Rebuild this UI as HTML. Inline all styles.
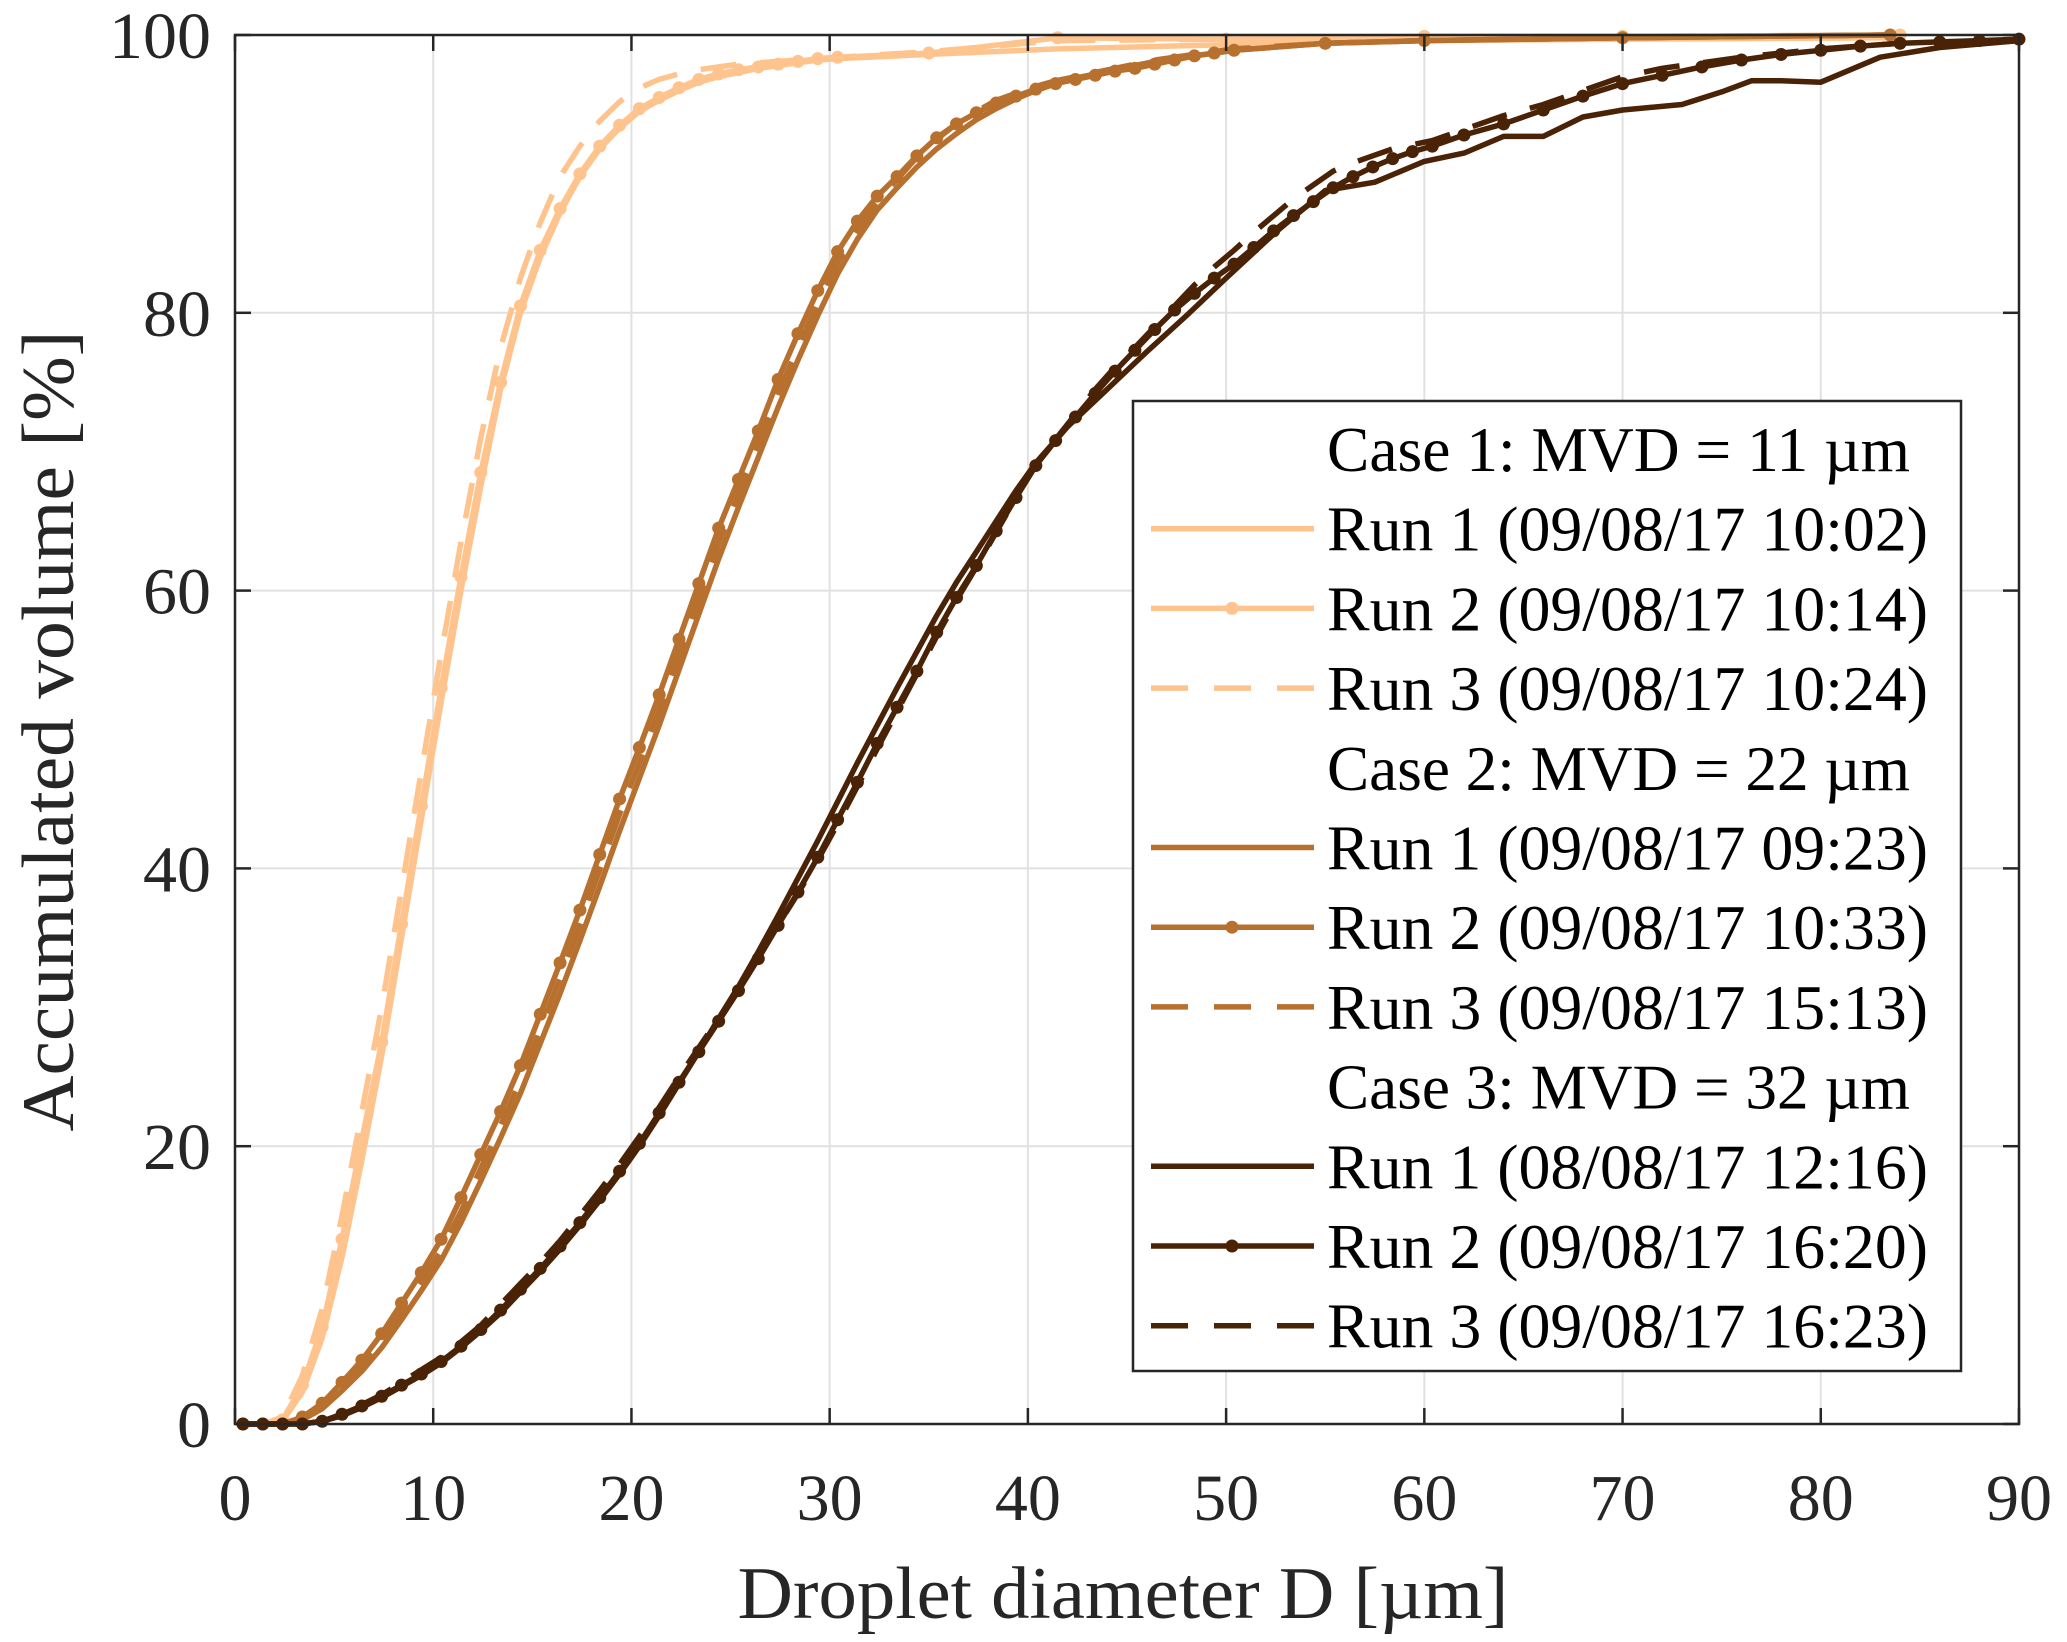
<!DOCTYPE html>
<html><head><meta charset="utf-8"><style>
html,body{margin:0;padding:0;background:#fff;}
svg{display:block;font-family:"Liberation Serif","Times New Roman",serif;}
</style></head><body>
<svg id="chart" width="2067" height="1642" viewBox="0 0 2067 1642" xmlns="http://www.w3.org/2000/svg">
<rect width="2067" height="1642" fill="#fff"/>
<g id="grid"></g>
<g id="series"></g>
<g id="axes"></g>
<g id="legend"></g>
</svg>
<script>
const xTicks = [0,10,20,30,40,50,60,70,80,90];
const yTicks = [0,20,40,60,80,100];
const xLabel = "Droplet diameter D [µm]";
const yLabel = "Accumulated volume [%]";

const c1X = [0.4,1.4,2.4,3.4,4.4,5.4,6.4,7.4,8.4,9.4,10.4,11.4,12.4,13.4,14.4,15.4,16.4,17.4,18.4,19.4,20.4,21.4,22.4,23.4,24.4,25.4,26.4,27.4,28.4,29.4,30.4,35,41.5,50,60,70,84];
const c1R1 = [0,0,0.2,2.3,6.2,12,19,26.5,35,43.5,52,60,67.5,74.5,80,84,87.2,89.8,91.8,93.3,94.5,95.3,96,96.6,97,97.3,97.6,97.8,98,98.2,98.3,98.6,99,99.3,99.6,99.7,99.8];
const c1R2 = [0,0,0.3,2.8,7,13.3,20.5,27.5,36,44.5,53,61,68.5,75,80.5,84.5,87.5,90,92,93.5,94.7,95.5,96.2,96.8,97.2,97.5,97.7,97.9,98.1,98.3,98.4,98.7,99.8,99.7,99.9,99.9,100];
const c1R3 = [0,0,0.5,3.5,8.3,15,22.5,30,38.5,47,55.5,63.5,71,77.5,82.5,86.5,89.8,92,93.8,95.2,96.2,96.8,97.2,97.5,97.7,97.9,98,98.1,98.2,98.3,98.4,98.8,99.6,99.7,99.9,99.9,100];

const c2X = [0.4,1.4,2.4,3.4,4.4,5.4,6.4,7.4,8.4,9.4,10.4,11.4,12.4,13.4,14.4,15.4,16.4,17.4,18.4,19.4,20.4,21.4,22.4,23.4,24.4,25.4,26.4,27.4,28.4,29.4,30.4,31.4,32.4,33.4,34.4,35.4,36.4,37.4,38.4,39.4,40.4,41.4,42.4,43.4,44.4,45.4,46.4,47.4,48.4,49.4,50.4,55,60,70,83.5];
const c2R1 = [0,0,0,0.3,1.1,2.4,3.8,5.5,7.5,9.6,11.8,14.5,17.5,20.6,23.8,27.4,31,34.8,38.7,42.7,46.5,50.3,54.3,58.3,62.3,66,69.6,73.2,76.6,79.8,82.8,85.3,87.4,89,90.5,91.8,92.9,93.9,94.7,95.4,96,96.5,96.9,97.2,97.5,97.8,98.1,98.3,98.5,98.7,98.9,99.4,99.6,99.8,100];
const c2R2 = [0,0,0,0.5,1.5,3,4.6,6.5,8.7,10.9,13.3,16.3,19.4,22.5,25.8,29.5,33.2,37,41,45,48.7,52.5,56.5,60.5,64.5,68,71.5,75.2,78.5,81.6,84.4,86.6,88.4,89.8,91.3,92.6,93.6,94.4,95.1,95.6,96.1,96.5,96.8,97.1,97.4,97.6,97.9,98.2,98.5,98.7,98.9,99.4,99.6,99.8,100];
const c2R3 = [0,0,0,0.4,1.3,2.7,4.2,6,8.1,10.2,12.5,15.3,18.4,21.5,24.8,28.4,32.1,35.9,39.9,43.9,47.6,51.4,55.4,59.4,63.4,67,70.5,74.2,77.5,80.7,83.6,86,88,89.6,91.2,92.5,93.6,94.5,95.3,95.8,96.3,96.7,97,97.3,97.6,97.9,98.2,98.4,98.6,98.8,99,99.4,99.6,99.8,100];

const c3X1 = [0.4,1.4,2.4,3.4,4.4,5.4,6.4,7.4,8.4,9.4,10.4,11.4,12.4,13.4,14.4,15.4,16.4,17.4,18.4,19.4,20.4,21.4,22.4,23.4,24.4,25.4,26.4,27.4,28.4,29.4,30.4,31.4,32.4,33.4,34.4,35.4,36.4,37.4,38.4,39.4,40.4,42,44,46,48,50,52.5,55,57.5,60,62,64,66,68,70,73,75,76.5,78,80,83,86,90];
const c3R1 = [0,0,0,0,0.2,0.6,1.2,1.9,2.7,3.5,4.4,5.5,6.7,8,9.5,11,12.6,14.3,16.1,18,20,22.2,24.5,26.8,29.2,31.5,34,36.6,39.3,42,44.8,47.6,50.3,53,55.6,58.2,60.6,62.8,65,67.2,69.2,71.8,74.5,77.2,79.8,82.5,85.8,88.8,89.4,90.9,91.5,92.7,92.7,94.1,94.6,95,95.9,96.7,96.7,96.6,98.4,99.1,99.6];
const c3X2 = [0.4,1.4,2.4,3.4,4.4,5.4,6.4,7.4,8.4,9.4,10.4,11.4,12.4,13.4,14.4,15.4,16.4,17.4,18.4,19.4,20.4,21.4,22.4,23.4,24.4,25.4,26.4,27.4,28.4,29.4,30.4,31.4,32.4,33.4,34.4,35.4,36.4,37.4,38.4,39.4,40.4,41.4,42.4,43.4,44.4,45.4,46.4,47.4,48.4,49.4,50.4,51.4,52.4,53.4,54.4,55.4,56.4,57.4,58.4,59.4,60.4,62,64,66,68,70,72,74,76,78,80,82,84,86,88,90];
const c3R2 = [0,0,0,0,0.2,0.7,1.3,2,2.8,3.6,4.5,5.6,6.8,8.2,9.7,11.2,12.8,14.5,16.3,18.2,20.2,22.4,24.6,26.8,29,31.2,33.5,35.9,38.3,40.8,43.5,46.2,49,51.6,54.2,57,59.5,61.8,64.3,66.7,69,70.8,72.5,74.2,75.8,77.3,78.8,80.2,81.4,82.5,83.5,84.7,85.9,87,88,89,89.8,90.5,91.1,91.6,92,92.8,93.6,94.6,95.6,96.5,97.1,97.7,98.2,98.6,98.9,99.2,99.4,99.5,99.6,99.7];
const c3X3 = [0.4,1.4,2.4,3.4,4.4,5.4,6.4,7.4,8.4,9.4,10.4,11.4,12.4,13.4,14.4,15.4,16.4,17.4,18.4,19.4,20.4,21.4,22.4,23.4,24.4,25.4,26.4,27.4,28.4,29.4,30.4,31.4,32.4,33.4,34.4,35.4,36.4,37.4,38.4,39.4,40.4,41.4,42.4,43.4,44.4,45.4,46.4,47.4,48.4,49.4,50.4,51.4,52.4,53.4,54.4,55.4,56.4,57.4,58.4,59.4,60.4,62,64,66,68,70,72,74,76,78,80,82,84];
const c3R3 = [0,0,0,0,0.2,0.7,1.4,2.1,3,3.9,4.8,5.9,7.1,8.6,10.1,11.6,13.2,15,16.8,18.7,20.7,22.8,25,27.1,29.2,31.3,33.6,35.9,38.2,40.6,43.2,45.9,48.6,51.3,54,56.7,59.3,61.7,64.2,66.7,69,70.9,72.7,74.5,76.1,77.5,79,80.5,82,83.3,84.5,85.8,87,88.2,89.2,90.2,90.8,91.3,91.8,92.1,92.4,93.2,94.2,95,96,97,97.6,98,98.4,98.7,99,99.2,99.4];

const colors = ["#ffc48e", "#b8702f", "#4a2206"];
const legendLabels = ["Case 1: MVD = 11 µm","Run 1 (09/08/17 10:02)","Run 2 (09/08/17 10:14)","Run 3 (09/08/17 10:24)","Case 2: MVD = 22 µm","Run 1 (09/08/17 09:23)","Run 2 (09/08/17 10:33)","Run 3 (09/08/17 15:13)","Case 3: MVD = 32 µm","Run 1 (08/08/17 12:16)","Run 2 (09/08/17 16:20)","Run 3 (09/08/17 16:23)"];

const NS = "http://www.w3.org/2000/svg";
const L = 235, R = 2019, T = 35, B = 1424;
const xs = v => L + (v / 90) * (R - L);
const ys = v => B - (v / 100) * (B - T);
function mk(tag, attrs, parent) {
  const e = document.createElementNS(NS, tag);
  for (const k in attrs) e.setAttribute(k, attrs[k]);
  parent.appendChild(e);
  return e;
}
const grid = document.getElementById('grid');
const axes = document.getElementById('axes');
const ser = document.getElementById('series');
const leg = document.getElementById('legend');

xTicks.forEach(t => {
  if (t > 0 && t < 90) {
    const g = mk('line', {x1: xs(t), x2: xs(t), y1: T, y2: B, stroke: '#e1e1e1', 'stroke-width': 2}, grid);
    
    
  }
  const tk1 = mk('line', {x1: xs(t), x2: xs(t), y1: B, y2: B - 16, stroke: '#262626', 'stroke-width': 2.5}, axes);
  
  
  const tk2 = mk('line', {x1: xs(t), x2: xs(t), y1: T, y2: T + 16, stroke: '#262626', 'stroke-width': 2.5}, axes);
  
  
  const lb = mk('text', {x: xs(t), y: 1520, 'text-anchor': 'middle', 'font-size': 66, fill: '#262626', textLength: String(t).length * 33, lengthAdjust: 'spacingAndGlyphs'}, axes);
  lb.textContent = t;
  
  
});
yTicks.forEach(t => {
  if (t > 0 && t < 100) {
    const g = mk('line', {x1: L, x2: R, y1: ys(t), y2: ys(t), stroke: '#e1e1e1', 'stroke-width': 2}, grid);
    
    
  }
  const tk1 = mk('line', {x1: L, x2: L + 16, y1: ys(t), y2: ys(t), stroke: '#262626', 'stroke-width': 2.5}, axes);
  
  
  const tk2 = mk('line', {x1: R, x2: R - 16, y1: ys(t), y2: ys(t), stroke: '#262626', 'stroke-width': 2.5}, axes);
  
  
  const lb = mk('text', {x: 211, y: ys(t) + 23, 'text-anchor': 'end', 'font-size': 66, fill: '#262626', textLength: String(t).length * 34, lengthAdjust: 'spacingAndGlyphs'}, axes);
  lb.textContent = t;
  
  
});
const frame = mk('rect', {x: L, y: T, width: R - L, height: B - T, fill: 'none', stroke: '#262626', 'stroke-width': 2.5}, axes);


const xl = mk('text', {x: 1123, y: 1618, 'text-anchor': 'middle', 'font-size': 74, fill: '#262626', textLength: 771, lengthAdjust: 'spacingAndGlyphs'}, axes);
xl.textContent = xLabel;


const yl = mk('text', {x: 0, y: 0, 'text-anchor': 'middle', 'font-size': 74, fill: '#262626', textLength: 801, lengthAdjust: 'spacingAndGlyphs', transform: 'translate(73,731) rotate(-90)'}, axes);
yl.textContent = yLabel;



const seriesList = [
  {x: c1X, y: c1R1, c: 0, style: 'solid', name: 'case1-run1'},
  {x: c1X, y: c1R2, c: 0, style: 'marker', name: 'case1-run2'},
  {x: c1X, y: c1R3, c: 0, style: 'dash', name: 'case1-run3'},
  {x: c2X, y: c2R1, c: 1, style: 'solid', name: 'case2-run1'},
  {x: c2X, y: c2R2, c: 1, style: 'marker', name: 'case2-run2'},
  {x: c2X, y: c2R3, c: 1, style: 'dash', name: 'case2-run3'},
  {x: c3X1, y: c3R1, c: 2, style: 'solid', name: 'case3-run1'},
  {x: c3X2, y: c3R2, c: 2, style: 'marker', name: 'case3-run2'},
  {x: c3X3, y: c3R3, c: 2, style: 'dash', name: 'case3-run3'}
];
seriesList.forEach(s => {
  const g = mk('g', {}, ser);
  
  
  const d = s.x.map((v, i) => (i ? 'L' : 'M') + xs(v).toFixed(1) + ',' + ys(s.y[i]).toFixed(1)).join('');
  const attrs = {d: d, fill: 'none', stroke: colors[s.c], 'stroke-width': 5.5, 'stroke-linejoin': 'round'};
  if (s.style === 'dash') attrs['stroke-dasharray'] = '36,24';
  const p = mk('path', attrs, g);
  
  
  if (s.style === 'marker') {
    s.x.forEach((v, i) => {
      const m = mk('circle', {cx: xs(v), cy: ys(s.y[i]), r: 6.5, fill: colors[s.c]}, g);
      
      
    });
  }
});

const lb = mk('rect', {x: 1133, y: 401, width: 828, height: 970, fill: '#fff', stroke: '#262626', 'stroke-width': 2.5}, leg);


legendLabels.forEach((txt, i) => {
  const cy = 449 + 79.7 * i;
  const isCase = i % 4 === 0;
  const ci = Math.floor(i / 4);
  const run = i % 4;
  const g = mk('g', {}, leg);
  
  
  if (!isCase) {
    const la = {x1: 1151, x2: 1314, y1: cy, y2: cy, stroke: colors[ci], 'stroke-width': 5.5};
    if (run === 3) la['stroke-dasharray'] = '37,26';
    const ln = mk('line', la, g);
    
    
    if (run === 2) {
      const m = mk('circle', {cx: 1232, cy: cy, r: 6.5, fill: colors[ci]}, g);
      
      
    }
  }
  const t = mk('text', {x: 1327, y: cy + 22, 'font-size': 64, fill: '#000', textLength: isCase ? 583 : 601, lengthAdjust: 'spacingAndGlyphs'}, g);
  t.textContent = txt;
  
  
});
</script>
</body></html>
